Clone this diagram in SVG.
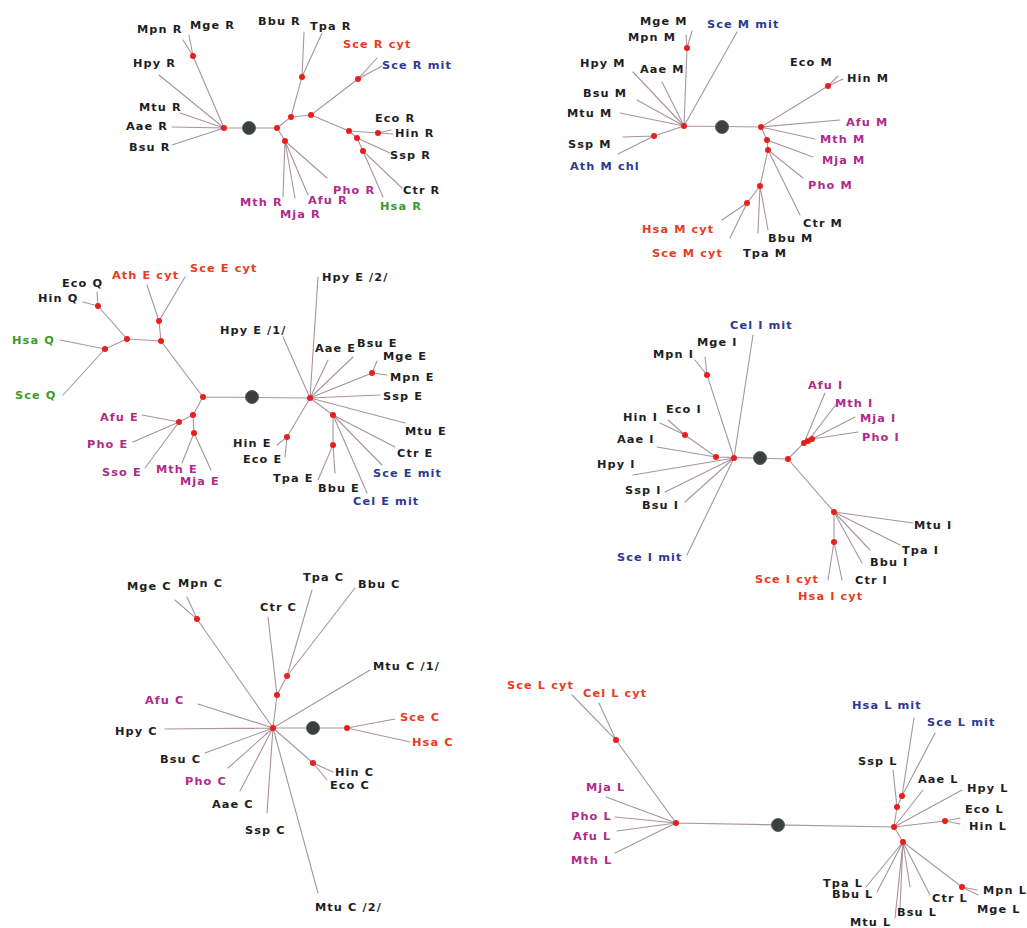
<svg xmlns="http://www.w3.org/2000/svg" width="1027" height="928" viewBox="0 0 1027 928">
<style>
  .e { stroke: #a8949e; stroke-width: 1.1; fill: none; stroke-linecap: round; }
  .n { fill: #e8201c; }
  .r { fill: #3a403e; stroke: #5a605e; stroke-width: 1; }
  text { font-family: "DejaVu Sans", Verdana, sans-serif; font-weight: bold; font-size: 11.3px; letter-spacing: 1.1px; fill: #1e1e1e; }
  text.red { fill: #ee3a1e; }
  text.blu { fill: #2c3a92; }
  text.mag { fill: #b02a8c; }
  text.grn { fill: #3c9a2c; }
</style>
<rect width="1027" height="928" fill="#ffffff"/>

<!-- R tree -->
<g id="tree-R">
  <g id="tree-R-edges">
    <path class="e" d="M224,128 L277,128 M224,128 L193,56 L183,40 M193,56 L189,35 M224,128 L159,75 M224,128 L180,113 M224,128 L172,127 M224,128 L172,145 M277,128 L291,117 L302,77 L304,32 M302,77 L322,33 M291,117 L311,115 L358,79 L377,58 M358,79 L382,66 M311,115 L349,131 L378,133 L391,130 M378,133 L393,134 M349,131 L357,138 L390,153 M357,138 L363,151 L402,188 M363,151 L383,197 M277,128 L285,141 L283,197 M285,141 L295,198 M285,141 L308,195 M285,141 L327,178"/>
  </g>
  <g id="tree-R-nodes">
    <circle class="r" cx="249" cy="128" r="6.5"/>
    <circle class="n" cx="224" cy="128" r="3"/><circle class="n" cx="277" cy="128" r="3"/><circle class="n" cx="193" cy="56" r="3"/>
    <circle class="n" cx="291" cy="117" r="3"/><circle class="n" cx="285" cy="141" r="3"/><circle class="n" cx="302" cy="77" r="3"/>
    <circle class="n" cx="311" cy="115" r="3"/><circle class="n" cx="358" cy="79" r="3"/><circle class="n" cx="349" cy="131" r="3"/>
    <circle class="n" cx="378" cy="133" r="3"/><circle class="n" cx="357" cy="138" r="3"/><circle class="n" cx="363" cy="151" r="3"/>
  </g>
  <g id="tree-R-labels">
    <text x="137" y="33">Mpn R</text><text x="190" y="29">Mge R</text><text x="133" y="67">Hpy R</text>
    <text x="139" y="111">Mtu R</text><text x="126" y="130">Aae R</text><text x="129" y="151">Bsu R</text>
    <text x="258" y="25">Bbu R</text><text x="310" y="30">Tpa R</text>
    <text class="red" x="343" y="48">Sce R cyt</text><text class="blu" x="382" y="69">Sce R mit</text>
    <text x="375" y="122">Eco R</text><text x="395" y="137">Hin R</text><text x="390" y="159">Ssp R</text>
    <text x="403" y="194">Ctr R</text><text class="grn" x="380" y="210">Hsa R</text>
    <text class="mag" x="240" y="206">Mth R</text><text class="mag" x="280" y="218">Mja R</text>
    <text class="mag" x="308" y="204">Afu R</text><text class="mag" x="333" y="194">Pho R</text>
  </g>
</g>

<!-- M tree -->
<g id="tree-M">
  <g id="tree-M-edges">
    <path class="e" d="M684,126 L761,127 M684,126 L687,48 L686,35 M687,48 L692,31 M684,126 L737,32 M684,126 L633,72 M684,126 L662,82 M684,126 L637,100 M684,126 L620,113 M684,126 L654,136 L623,137 M654,136 L618,154 M761,127 L828,86 L838,76 M828,86 L843,79 M761,127 L840,120 M761,127 L815,139 M761,127 L767,140 L813,157 M767,140 L768,150 L803,178 M768,150 L800,215 M768,150 L760,186 L768,230 M760,186 L758,233 M760,186 L747,203 L722,220 M747,203 L730,238"/>
  </g>
  <g id="tree-M-nodes">
    <circle class="r" cx="722" cy="127" r="6.5"/>
    <circle class="n" cx="684" cy="126" r="3"/><circle class="n" cx="761" cy="127" r="3"/><circle class="n" cx="687" cy="48" r="3"/>
    <circle class="n" cx="654" cy="136" r="3"/><circle class="n" cx="828" cy="86" r="3"/><circle class="n" cx="767" cy="140" r="3"/>
    <circle class="n" cx="768" cy="150" r="3"/><circle class="n" cx="760" cy="186" r="3"/><circle class="n" cx="747" cy="203" r="3"/>
  </g>
  <g id="tree-M-labels">
    <text x="640" y="25">Mge M</text><text x="628" y="41">Mpn M</text><text class="blu" x="707" y="28">Sce M mit</text>
    <text x="580" y="67">Hpy M</text><text x="640" y="73">Aae M</text><text x="583" y="97">Bsu M</text>
    <text x="567" y="117">Mtu M</text><text x="568" y="148">Ssp M</text><text class="blu" x="570" y="170">Ath M chl</text>
    <text x="790" y="66">Eco M</text><text x="847" y="82">Hin M</text>
    <text class="mag" x="846" y="126">Afu M</text><text class="mag" x="820" y="143">Mth M</text>
    <text class="mag" x="822" y="164">Mja M</text><text class="mag" x="808" y="189">Pho M</text>
    <text x="803" y="227">Ctr M</text><text x="768" y="242">Bbu M</text><text x="743" y="257">Tpa M</text>
    <text class="red" x="642" y="233">Hsa M cyt</text><text class="red" x="652" y="257">Sce M cyt</text>
  </g>
</g>

<!-- E tree -->
<g id="tree-E">
  <g id="tree-E-edges">
    <path class="e" d="M203,397 L310,398 M203,397 L161,341 L159,321 L147,285 M159,321 L185,277 M161,341 L127,339 L98,306 L97,292 M98,306 L83,302 M127,339 L105,349 L60,340 M105,349 L63,395 M203,397 L193,415 L179,422 L142,415 M179,422 L133,442 M179,422 L145,468 M193,415 L194,433 L182,463 M194,433 L211,470 M310,398 L318,277 M310,398 L283,337 M310,398 L328,360 M310,398 L353,357 M310,398 L372,373 L377,361 M372,373 L387,375 M310,398 L380,395 M310,398 L405,423 M310,398 L333,415 L395,447 M333,415 L382,465 M333,415 L367,493 M333,415 L333,445 L318,480 M333,445 L335,473 M310,398 L287,437 L277,445 M287,437 L285,457"/>
  </g>
  <g id="tree-E-nodes">
    <circle class="r" cx="252" cy="397" r="6.5"/>
    <circle class="n" cx="203" cy="397" r="3"/><circle class="n" cx="310" cy="398" r="3"/><circle class="n" cx="161" cy="341" r="3"/>
    <circle class="n" cx="159" cy="321" r="3"/><circle class="n" cx="127" cy="339" r="3"/><circle class="n" cx="98" cy="306" r="3"/>
    <circle class="n" cx="105" cy="349" r="3"/><circle class="n" cx="193" cy="415" r="3"/><circle class="n" cx="179" cy="422" r="3"/>
    <circle class="n" cx="194" cy="433" r="3"/><circle class="n" cx="372" cy="373" r="3"/><circle class="n" cx="333" cy="415" r="3"/>
    <circle class="n" cx="333" cy="445" r="3"/><circle class="n" cx="287" cy="437" r="3"/>
  </g>
  <g id="tree-E-labels">
    <text class="red" x="112" y="279">Ath E cyt</text><text class="red" x="190" y="272">Sce E cyt</text>
    <text x="62" y="287">Eco Q</text><text x="38" y="302">Hin Q</text>
    <text class="grn" x="12" y="344">Hsa Q</text><text class="grn" x="15" y="399">Sce Q</text>
    <text class="mag" x="100" y="421">Afu E</text><text class="mag" x="87" y="448">Pho E</text><text class="mag" x="102" y="476">Sso E</text>
    <text class="mag" x="156" y="473">Mth E</text><text class="mag" x="180" y="485">Mja E</text>
    <text x="322" y="281">Hpy E /2/</text><text x="220" y="334">Hpy E /1/</text>
    <text x="315" y="352">Aae E</text><text x="357" y="347">Bsu E</text><text x="383" y="360">Mge E</text>
    <text x="390" y="381">Mpn E</text><text x="383" y="400">Ssp E</text><text x="405" y="435">Mtu E</text>
    <text x="397" y="457">Ctr E</text><text class="blu" x="373" y="477">Sce E mit</text>
    <text x="318" y="492">Bbu E</text><text x="273" y="482">Tpa E</text><text class="blu" x="353" y="505">Cel E mit</text>
    <text x="233" y="447">Hin E</text><text x="243" y="463">Eco E</text>
  </g>
</g>

<!-- I tree -->
<g id="tree-I">
  <g id="tree-I-edges">
    <path class="e" d="M716,457 L788,459 M734,458 L753,335 M734,458 L707,375 L705,357 M707,375 L695,360 M716,457 L685,435 L668,420 M685,435 L660,423 M716,457 L657,447 M734,458 L633,475 M734,458 L665,492 M734,458 L685,502 M734,458 L687,555 M788,459 L804,443 L825,393 M804,443 L808,441 L838,402 M808,441 L812,439 L855,417 M812,439 L858,432 M788,459 L834,512 L913,523 M834,512 L900,545 M834,512 L870,550 M834,512 L862,563 M834,512 L834,542 L828,580 M834,542 L842,580"/>
  </g>
  <g id="tree-I-nodes">
    <circle class="r" cx="760" cy="458" r="6.5"/>
    <circle class="n" cx="734" cy="458" r="3"/><circle class="n" cx="716" cy="457" r="3"/><circle class="n" cx="788" cy="459" r="3"/>
    <circle class="n" cx="707" cy="375" r="3"/><circle class="n" cx="685" cy="435" r="3"/><circle class="n" cx="804" cy="443" r="3"/>
    <circle class="n" cx="808" cy="441" r="3"/><circle class="n" cx="812" cy="439" r="3"/><circle class="n" cx="834" cy="512" r="3"/>
    <circle class="n" cx="834" cy="542" r="3"/>
  </g>
  <g id="tree-I-labels">
    <text class="blu" x="730" y="329">Cel I mit</text><text x="697" y="346">Mge I</text><text x="653" y="358">Mpn I</text>
    <text x="666" y="413">Eco I</text><text x="623" y="421">Hin I</text><text x="617" y="443">Aae I</text>
    <text x="597" y="468">Hpy I</text><text x="625" y="494">Ssp I</text><text x="642" y="509">Bsu I</text>
    <text class="blu" x="617" y="561">Sce I mit</text>
    <text class="mag" x="808" y="389">Afu I</text><text class="mag" x="835" y="407">Mth I</text>
    <text class="mag" x="860" y="422">Mja I</text><text class="mag" x="862" y="441">Pho I</text>
    <text x="914" y="529">Mtu I</text><text x="902" y="554">Tpa I</text><text x="870" y="566">Bbu I</text><text x="855" y="584">Ctr I</text>
    <text class="red" x="755" y="583">Sce I cyt</text><text class="red" x="798" y="600">Hsa I cyt</text>
  </g>
</g>

<!-- C tree -->
<g id="tree-C">
  <g id="tree-C-edges">
    <path class="e" d="M273,728 L347,728 L395,719 M347,728 L410,742 M273,728 L197,619 L175,600 M197,619 L187,597 M273,728 L277,695 L268,617 M277,695 L287,676 L312,590 M287,676 L355,588 M273,728 L370,670 M273,728 L198,704 M273,728 L165,729 M273,728 L205,753 M273,728 L228,768 M273,728 L240,791 M273,728 L267,813 M273,728 L318,893 M273,728 L313,763 L333,772 M313,763 L327,780"/>
  </g>
  <g id="tree-C-nodes">
    <circle class="r" cx="313" cy="728" r="6.5"/>
    <circle class="n" cx="273" cy="728" r="3"/><circle class="n" cx="347" cy="728" r="3"/><circle class="n" cx="197" cy="619" r="3"/>
    <circle class="n" cx="277" cy="695" r="3"/><circle class="n" cx="287" cy="676" r="3"/><circle class="n" cx="313" cy="763" r="3"/>
  </g>
  <g id="tree-C-labels">
    <text x="127" y="590">Mge C</text><text x="178" y="587">Mpn C</text><text x="260" y="611">Ctr C</text>
    <text x="303" y="581">Tpa C</text><text x="358" y="588">Bbu C</text><text x="373" y="670">Mtu C /1/</text>
    <text class="red" x="400" y="721">Sce C</text><text class="red" x="412" y="746">Hsa C</text>
    <text class="mag" x="145" y="704">Afu C</text><text x="115" y="735">Hpy C</text><text x="160" y="763">Bsu C</text>
    <text class="mag" x="185" y="785">Pho C</text><text x="212" y="808">Aae C</text><text x="245" y="834">Ssp C</text>
    <text x="315" y="911">Mtu C /2/</text><text x="335" y="776">Hin C</text><text x="330" y="789">Eco C</text>
  </g>
</g>

<!-- L tree -->
<g id="tree-L">
  <g id="tree-L-edges">
    <path class="e" d="M676,823 L894,827 M676,823 L616,740 L572,695 M616,740 L599,703 M676,823 L606,797 M676,823 L615,817 M676,823 L617,831 M676,823 L615,853 M894,827 L897,807 L902,796 L914,718 M902,796 L935,733 M897,807 L893,770 M894,827 L923,790 M894,827 L962,790 M894,827 L945,821 L960,818 M945,821 L960,824 M894,827 L903,842 L866,887 M903,842 L877,892 M903,842 L895,918 M903,842 L900,908 M903,842 L910,887 M903,842 L930,895 M903,842 L962,887 L977,890 M962,887 L978,895"/>
  </g>
  <g id="tree-L-nodes">
    <circle class="r" cx="778" cy="825" r="6.5"/>
    <circle class="n" cx="676" cy="823" r="3"/><circle class="n" cx="894" cy="827" r="3"/><circle class="n" cx="616" cy="740" r="3"/>
    <circle class="n" cx="897" cy="807" r="3"/><circle class="n" cx="902" cy="796" r="3"/><circle class="n" cx="945" cy="821" r="3"/>
    <circle class="n" cx="903" cy="842" r="3"/><circle class="n" cx="962" cy="887" r="3"/>
  </g>
  <g id="tree-L-labels">
    <text class="red" x="507" y="689">Sce L cyt</text><text class="red" x="583" y="697">Cel L cyt</text>
    <text class="mag" x="586" y="791">Mja L</text><text class="mag" x="571" y="820">Pho L</text>
    <text class="mag" x="573" y="840">Afu L</text><text class="mag" x="571" y="864">Mth L</text>
    <text class="blu" x="852" y="709">Hsa L mit</text><text class="blu" x="927" y="726">Sce L mit</text>
    <text x="858" y="765">Ssp L</text><text x="918" y="783">Aae L</text><text x="967" y="792">Hpy L</text>
    <text x="965" y="813">Eco L</text><text x="969" y="830">Hin L</text>
    <text x="823" y="887">Tpa L</text><text x="832" y="898">Bbu L</text><text x="850" y="926">Mtu L</text>
    <text x="897" y="916">Bsu L</text><text x="932" y="902">Ctr L</text>
    <text x="983" y="894">Mpn L</text><text x="977" y="913">Mge L</text>
  </g>
</g>
</svg>
